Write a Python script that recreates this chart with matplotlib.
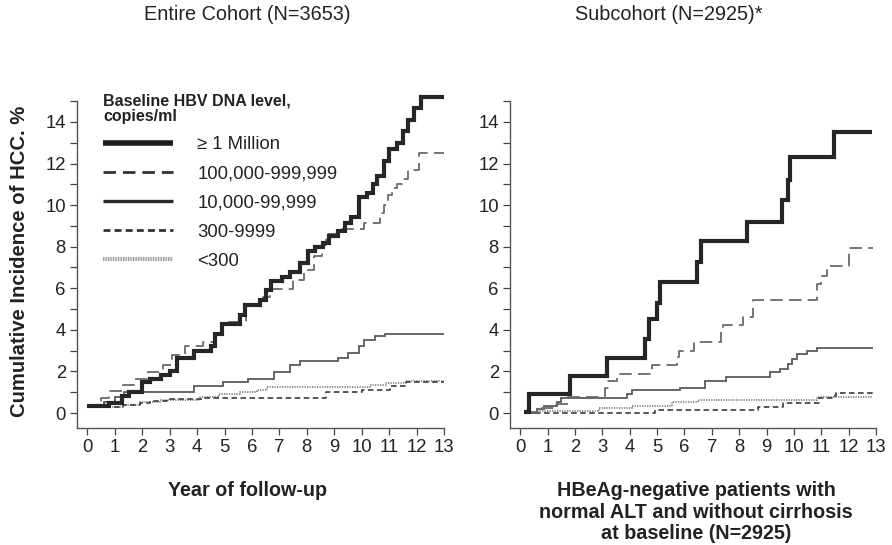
import matplotlib
matplotlib.use("Agg")
import matplotlib.pyplot as plt
from matplotlib.lines import Line2D

plt.rcParams['font.family'] = ['Liberation Sans', 'DejaVu Sans']
plt.rcParams['lines.scale_dashes'] = False

# ---- data (years, cumulative incidence %) ----
group_labels = ["\u2265 1 Million", "100,000-999,999", "10,000-99,999", "300-9999", "<300"]

# Entire cohort
left_1m_x = [0, 0.8, 1.25, 1.5, 2.0, 2.3, 2.7, 3.0, 3.25, 3.9, 4.5, 4.65, 4.9, 5.55, 5.75,
             6.3, 6.5, 6.7, 7.1, 7.4, 7.75, 8.05, 8.3, 8.6, 8.8, 9.15, 9.4, 9.6, 9.9, 10.2,
             10.4, 10.55, 10.8, 11.0, 11.3, 11.5, 11.7, 11.9, 12.15, 13.0]
left_1m_y = [0.35, 0.5, 0.8, 1.0, 1.5, 1.65, 1.85, 2.0, 2.65, 3.0, 3.2, 3.8, 4.3, 4.7, 5.2,
             5.45, 5.9, 6.35, 6.55, 6.8, 7.2, 7.8, 8.0, 8.2, 8.5, 8.75, 9.15, 9.45, 10.4, 10.6,
             11.0, 11.4, 12.1, 12.7, 13.0, 13.55, 14.1, 14.65, 15.2, 15.2]
left_100k_x = [0, 0.5, 0.8, 1.25, 1.7, 2.2, 2.75, 3.1, 3.55, 4.2, 4.6, 4.95, 5.8, 6.4, 6.65,
               7.5, 7.9, 8.25, 8.55, 8.7, 9.3, 10.1, 10.67, 10.8, 10.95, 11.1, 11.28, 11.46,
               11.69, 12.1, 13.0]
left_100k_y = [0.35, 0.72, 1.05, 1.35, 1.65, 1.95, 2.3, 2.8, 3.2, 3.4, 3.85, 4.4, 5.15, 5.6, 5.95,
               6.4, 6.9, 7.55, 8.1, 8.6, 8.85, 9.15, 9.6, 10.0, 10.5, 10.8, 11.0, 11.25,
               11.7, 12.5, 12.5]
left_10k_x = [0, 0.6, 1.0, 1.35, 3.9, 4.95, 5.85, 6.8, 7.4, 7.75, 9.15, 9.5, 9.9, 10.1, 10.5, 10.85, 13.0]
left_10k_y = [0.35, 0.55, 0.75, 1.0, 1.3, 1.5, 1.65, 1.95, 2.3, 2.5, 2.65, 2.9, 3.2, 3.5, 3.7, 3.8, 3.8]
left_300_x = [0, 1.3, 1.9, 2.3, 2.9, 4.2, 8.7, 10.0, 11.05, 11.6, 13.0]
left_300_y = [0.3, 0.4, 0.5, 0.6, 0.68, 0.72, 1.0, 1.1, 1.3, 1.5, 1.5]
left_lt300_x = [0, 1.3, 1.9, 2.65, 4.1, 4.8, 5.55, 6.2, 6.55, 10.3, 10.9, 11.6, 13.0]
left_lt300_y = [0.3, 0.4, 0.55, 0.65, 0.75, 0.9, 1.0, 1.1, 1.25, 1.35, 1.45, 1.55, 1.55]

# Subcohort
right_1m_x = [0.15, 0.3, 1.83, 3.17, 4.54, 4.72, 5.0, 5.1, 6.45, 6.6, 8.3, 9.55, 9.8, 9.85, 11.45, 12.85]
right_1m_y = [0.05, 0.9, 1.8, 2.65, 3.55, 4.5, 5.3, 6.3, 7.25, 8.25, 9.2, 10.25, 11.2, 12.3, 13.5, 13.5]
right_100k_x = [0.2, 0.8, 1.3, 1.75, 3.1, 3.2, 3.55, 4.8, 5.72, 5.8, 6.35, 7.35, 7.42, 8.15, 8.5,
                10.85, 11.0, 11.2, 12.0, 12.9]
right_100k_y = [0.05, 0.25, 0.45, 0.77, 1.2, 1.55, 1.9, 2.3, 2.7, 3.0, 3.4, 4.0, 4.25, 4.6, 5.45,
                6.2, 6.6, 7.05, 7.95, 7.95]
right_10k_x = [0.25, 0.6, 0.85, 1.35, 1.5, 3.9, 4.08, 5.85, 6.75, 7.5, 9.13, 9.5, 9.8, 9.92, 10.1,
               10.47, 10.85, 12.9]
right_10k_y = [0.0, 0.2, 0.35, 0.55, 0.7, 0.9, 1.1, 1.2, 1.55, 1.75, 1.95, 2.1, 2.35, 2.6, 2.85,
               3.0, 3.15, 3.15]
right_300_x = [0.2, 4.93, 8.7, 9.6, 10.9, 11.4, 11.55, 12.9]
right_300_y = [0.0, 0.15, 0.3, 0.5, 0.7, 0.8, 0.95, 0.95]
right_lt300_x = [0.3, 0.6, 2.86, 4.08, 5.55, 6.5, 10.85, 12.9]
right_lt300_y = [0.0, 0.1, 0.25, 0.35, 0.55, 0.65, 0.75, 0.75]

x_ticks = list(range(0, 14))
y_ticks = list(range(0, 16))
y_labels = [str(v) if v % 2 == 0 and v < 15 else "" for v in y_ticks]

# line styles: (color, width, dashes)
styles = [
    ("#262626", 3.0, None),
    ("#6a6a6a", 1.3, (9, 4.5)),
    ("#5a5a5a", 1.3, None),
    ("#3c3c3c", 1.2, (4, 2.5)),
    ("#8c8c8c", 1.4, (0.9, 0.9)),
]
# legend handles are drawn a little heavier than the curves
legend_styles = [
    ("#1e1e1e", 4.0, None),
    ("#333333", 2.0, (9, 5)),
    ("#2a2a2a", 2.4, None),
    ("#333333", 2.0, (5, 3)),
    ("#888888", 3.0, (0.6, 0.6)),
]

fig = plt.figure(figsize=(8.92, 5.45), dpi=100)
ax1 = fig.add_axes([0.0863, 0.2147, 0.4145, 0.615])
ax2 = fig.add_axes([0.5717, 0.2147, 0.4134, 0.615])

left_series = [(left_1m_x, left_1m_y), (left_100k_x, left_100k_y), (left_10k_x, left_10k_y),
               (left_300_x, left_300_y), (left_lt300_x, left_lt300_y)]
right_series = [(right_1m_x, right_1m_y), (right_100k_x, right_100k_y), (right_10k_x, right_10k_y),
                (right_300_x, right_300_y), (right_lt300_x, right_lt300_y)]

for ax, series in ((ax1, left_series), (ax2, right_series)):
    # draw the thick line last so it sits on top
    for i in [4, 3, 2, 1, 0]:
        xs, ys = series[i]
        color, lw, dashes = styles[i]
        line, = ax.step(xs, ys, where='post', color=color, lw=lw, clip_on=False,
                        solid_joinstyle='miter', solid_capstyle='butt')
        if dashes is not None:
            line.set_dashes(dashes)

    ax.set_xlim(-0.38, 13.1)
    ax.set_ylim(-0.72, 15.4)
    ax.set_xticks(x_ticks)
    ax.set_yticks(y_ticks)
    ax.set_yticklabels(y_labels)
    ax.tick_params(direction='out', length=5, width=0.9, colors='#444444',
                   labelsize=13.3, labelcolor='#222222', pad=3)
    for s in ('top', 'right'):
        ax.spines[s].set_visible(False)
    for s in ('left', 'bottom'):
        ax.spines[s].set_color('#555555')
        ax.spines[s].set_linewidth(1.0)
    ax.spines['left'].set_bounds(-0.72, 15)
    ax.spines['bottom'].set_bounds(-0.38, 13)

# legend in the left panel
handles = []
for color, lw, dashes in legend_styles:
    h = Line2D([0], [0], color=color, lw=lw, solid_capstyle='butt', dash_capstyle='butt')
    if dashes is not None:
        h.set_dashes(dashes)
    handles.append(h)
leg = ax1.legend(handles, group_labels, loc='upper left',
                 bbox_to_anchor=(103 / 892, 1 - 94 / 545), bbox_transform=fig.transFigure,
                 frameon=False, fontsize=13.3, handlelength=3.8, handletextpad=1.3,
                 labelspacing=0.66, borderpad=0, borderaxespad=0,
                 title="Baseline HBV DNA level,\ncopies/ml", alignment='left',
                 title_fontproperties={'weight': 'bold', 'size': 11.5})
leg.get_title().set_color('#222222')
leg.get_title().set_linespacing(1.0)
for t in leg.get_texts():
    t.set_color('#222222')

# titles and axis labels
fig.text(247 / 892, 1 - 15 / 545, "Entire Cohort (N=3653)", ha='center', va='center',
         fontsize=14.3, color='#222222')
fig.text(669 / 892, 1 - 15 / 545, "Subcohort (N=2925)*", ha='center', va='center',
         fontsize=14.3, color='#222222')
fig.text(247 / 892, 1 - 490 / 545, "Year of follow-up", ha='center', va='center',
         fontsize=14.2, fontweight='bold', color='#222222')
fig.text(696 / 892, 1 - 512 / 545,
         "HBeAg-negative patients with\nnormal ALT and without cirrhosis\nat baseline (N=2925)",
         ha='center', va='center', fontsize=14.2, fontweight='bold', color='#222222',
         linespacing=1.16)
fig.text(20 / 892, 1 - 261 / 545, "Cumulative Incidence of HCC. %", rotation=90,
         ha='center', va='center', fontsize=14.6, fontweight='bold', color='#222222')

fig.savefig('out.png', dpi=100)
